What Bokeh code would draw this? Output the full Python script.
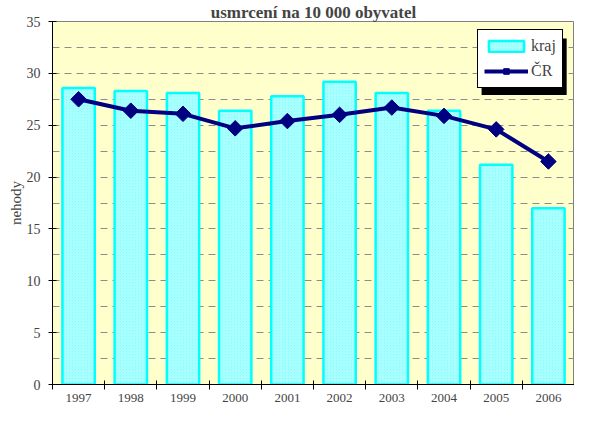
from bokeh.plotting import figure
from bokeh.models import FixedTicker, Range1d, ColumnDataSource
from bokeh.embed import file_html
from bokeh.resources import INLINE

years = ["1997", "1998", "1999", "2000", "2001", "2002", "2003", "2004", "2005", "2006"]
kraj = [28.6, 28.3, 28.1, 26.4, 27.8, 29.2, 28.1, 26.4, 21.2, 17.0]
cr = [27.5, 26.4, 26.1, 24.7, 25.4, 26.0, 26.7, 25.9, 24.6, 21.5]
y_ticks = [0, 5, 10, 15, 20, 25, 30, 35]
grid_ticks = [2.5, 5, 7.5, 10, 12.5, 15, 17.5, 20, 22.5, 25, 27.5, 30, 32.5]
title_text = "usmrcení na 10 000 obyvatel"

idx = list(range(len(years)))
src = ColumnDataSource(dict(x=idx, kraj=kraj, cr=cr))

FONT = "Liberation Serif"

p = figure(width=574, height=407, x_range=Range1d(-0.5, len(years) - 0.5), y_range=Range1d(0, 35),
           output_backend="svg", toolbar_location=None,
           min_border_left=52, min_border_right=0, min_border_top=19, min_border_bottom=23,
           background_fill_color="#FFFFCC", border_fill_color="white",
           outline_line_color="#808080", outline_line_width=1)

p.title.text = title_text
p.title.align = "center"
p.title.text_font = FONT
p.title.text_font_size = "17px"
p.title.text_font_style = "bold"
p.title.standoff = 0

p.xgrid.visible = False
p.ygrid.ticker = FixedTicker(ticks=grid_ticks)
p.ygrid.grid_line_color = "#8c8c8c"
p.ygrid.grid_line_dash = "7 5"
p.ygrid.grid_line_width = 1

p.vbar(x="x", top="kraj", width=0.62, source=src, fill_color="#88FFFF",
       line_color="#00FFFF", line_width=2.5,
       hatch_pattern="right_diagonal_line", hatch_color="#C8FFFF", hatch_scale=3, hatch_weight=0.8,
       legend_label="kraj")
p.line(x="x", y="cr", source=src, line_color="#000080", line_width=4, legend_label="ČR")
p.scatter(x="x", y="cr", source=src, marker="square", angle=0.785398, size=11,
          fill_color="#000080", line_color="#000080", legend_label="ČR")

# legend drop shadow (glyph level, so it sits beneath the legend box)
p.quad(left=[7.72], right=[9.35], top=[33.37], bottom=[27.92],
       fill_color="black", line_color=None)

# y axis
ya = p.yaxis[0]
ya.ticker = FixedTicker(ticks=y_ticks)
ya.major_tick_in = 4
ya.major_tick_out = 4
ya.minor_tick_in = 0
ya.minor_tick_out = 0
ya.axis_line_color = "black"
ya.major_tick_line_color = "black"
ya.major_label_text_font = FONT
ya.major_label_text_font_size = "14px"
ya.major_label_standoff = 8
ya.axis_label = "nehody"
ya.axis_label_text_font = FONT
ya.axis_label_text_font_size = "15px"
ya.axis_label_text_font_style = "normal"
ya.axis_label_standoff = 0

# x axis: labels at centres, tick marks between categories
xa = p.xaxis[0]
xa.ticker = FixedTicker(ticks=idx, minor_ticks=[i - 0.5 for i in range(len(years) + 1)])
xa.major_label_overrides = {i: y for i, y in zip(idx, years)}
xa.major_tick_in = 0
xa.major_tick_out = 0
xa.minor_tick_in = 4
xa.minor_tick_out = 5
xa.minor_tick_line_color = "black"
xa.axis_line_color = "black"
xa.major_label_text_font = FONT
xa.major_label_text_font_size = "13px"
xa.major_label_standoff = 4

# legend
lg = p.legend[0]
lg.location = (425, 296)
lg.margin = 0
lg.label_text_font = FONT
lg.label_text_font_size = "16px"
lg.border_line_color = "black"
lg.border_line_width = 1
lg.border_line_alpha = 1
lg.background_fill_color = "white"
lg.background_fill_alpha = 1
lg.glyph_width = 44
lg.glyph_height = 14
lg.label_height = 20
lg.label_standoff = 3
lg.padding = 6
lg.spacing = 5

open("out.html", "w").write(file_html(p, INLINE))
